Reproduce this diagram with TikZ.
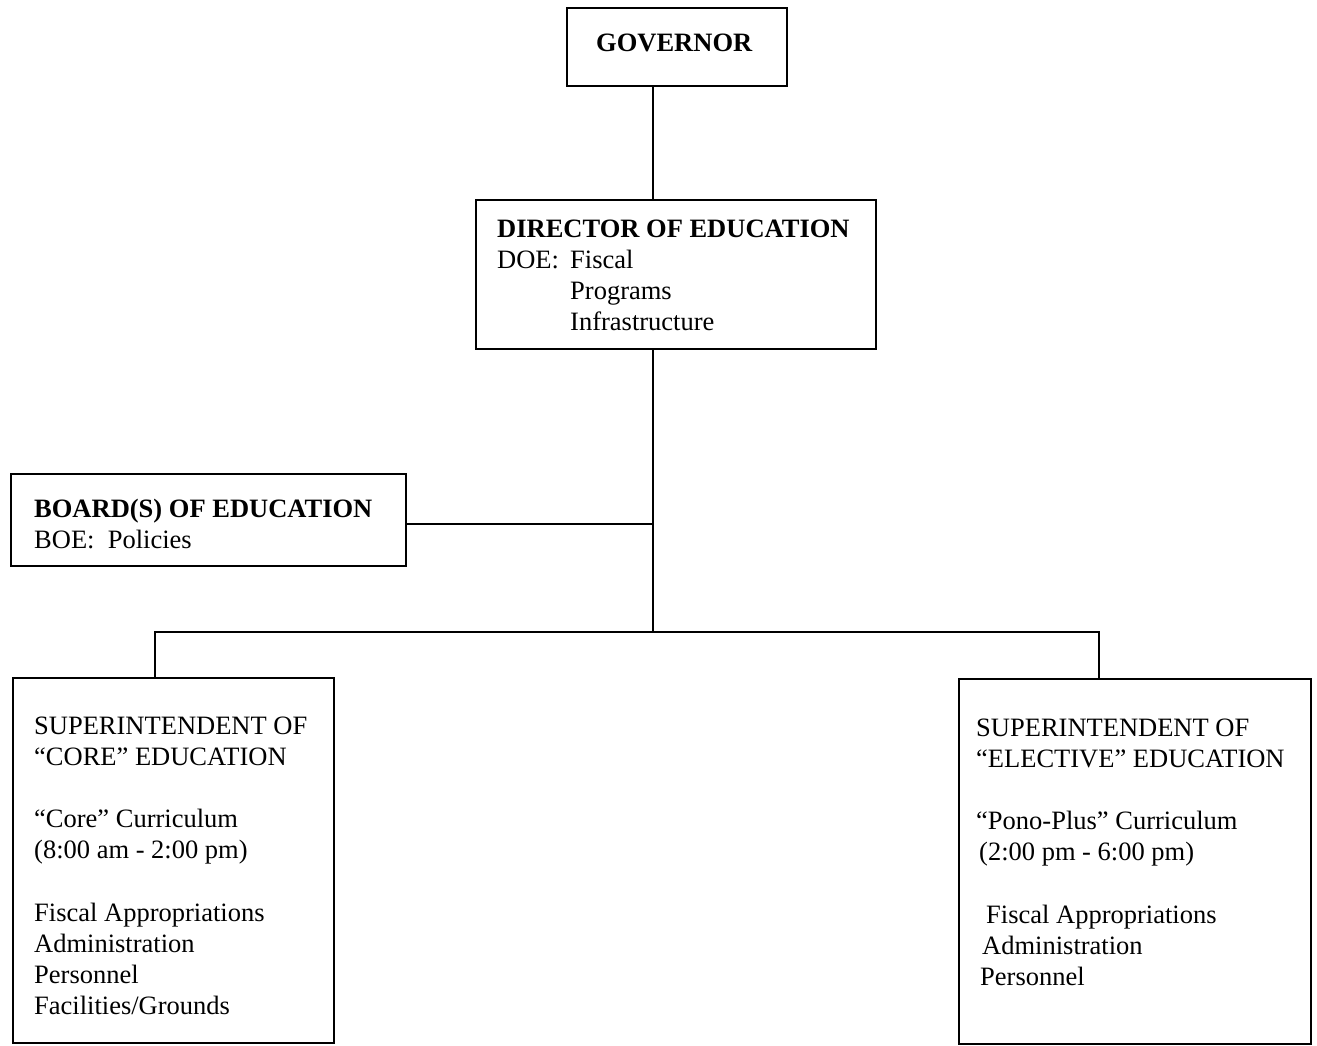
\documentclass[tikz,border=0pt]{standalone}
\usepackage{fontspec}
\setmainfont{Liberation Serif}
\begin{document}
\begin{tikzpicture}[x=1pt,y=-1pt,
  box/.style={draw=black,line width=1.5pt,rectangle,inner sep=0pt,anchor=north west},
  txt/.style={inner sep=0pt,anchor=base west,align=left,font=\fontsize{26.5}{31.2}\selectfont},
  conn/.style={draw=black,line width=1.5pt}]
\useasboundingbox (0,0) rectangle (1317,1045);
% boxes
\node[box,minimum width=220pt,minimum height=78pt] (gov) at (566,7) {};
\node[box,minimum width=400pt,minimum height=149pt] (dir) at (475,199) {};
\node[box,minimum width=395pt,minimum height=92pt] (board) at (10,473) {};
\node[box,minimum width=321pt,minimum height=365pt] (core) at (12,677) {};
\node[box,minimum width=352pt,minimum height=365pt] (elec) at (958,678) {};
% texts (anchor = baseline of the last line)
\node[txt] (govt) at (596,51) {\textbf{GOVERNOR}};
\node[txt] (dirt) at (497,330.6) {\textbf{DIRECTOR OF EDUCATION}\\
\makebox[73pt][l]{DOE:}Fiscal\\
\hspace*{73pt}Programs\\
\hspace*{73pt}Infrastructure};
\node[txt] (boardt) at (34,548.2) {\textbf{BOARD(S) OF EDUCATION}\\
BOE:\ \ Policies};
\node[txt] (coret) at (34,1014.8) {SUPERINTENDENT OF\\
``CORE'' EDUCATION\\[31.2pt]
``Core'' Curriculum\\
(8:00 am - 2:00 pm)\\[31.2pt]
Fiscal Appropriations\\
Administration\\
Personnel\\
Facilities/Grounds};
\node[txt] (elect) at (976,985.6) {SUPERINTENDENT OF\\
``ELECTIVE'' EDUCATION\\[31.2pt]
``Pono-Plus'' Curriculum\\
\hspace*{3pt}(2:00 pm - 6:00 pm)\\[31.2pt]
\hspace*{10pt}Fiscal Appropriations\\
\hspace*{6pt}Administration\\
\hspace*{4pt}Personnel};
% connectors
\coordinate (sp) at (653,0);
\coordinate (barL) at (155,632);
\coordinate (barR) at (1099,632);
\coordinate (bj) at (653,524);
\draw[conn] (sp |- gov.south) -- (sp |- dir.north);
\draw[conn] (sp |- dir.south) -- (sp |- barL);
\draw[conn] (board.east |- bj) -- (bj);
\draw[conn] (barL |- core.north) -- (barL) -- (barR) -- (barR |- elec.north);
\end{tikzpicture}
\end{document}
